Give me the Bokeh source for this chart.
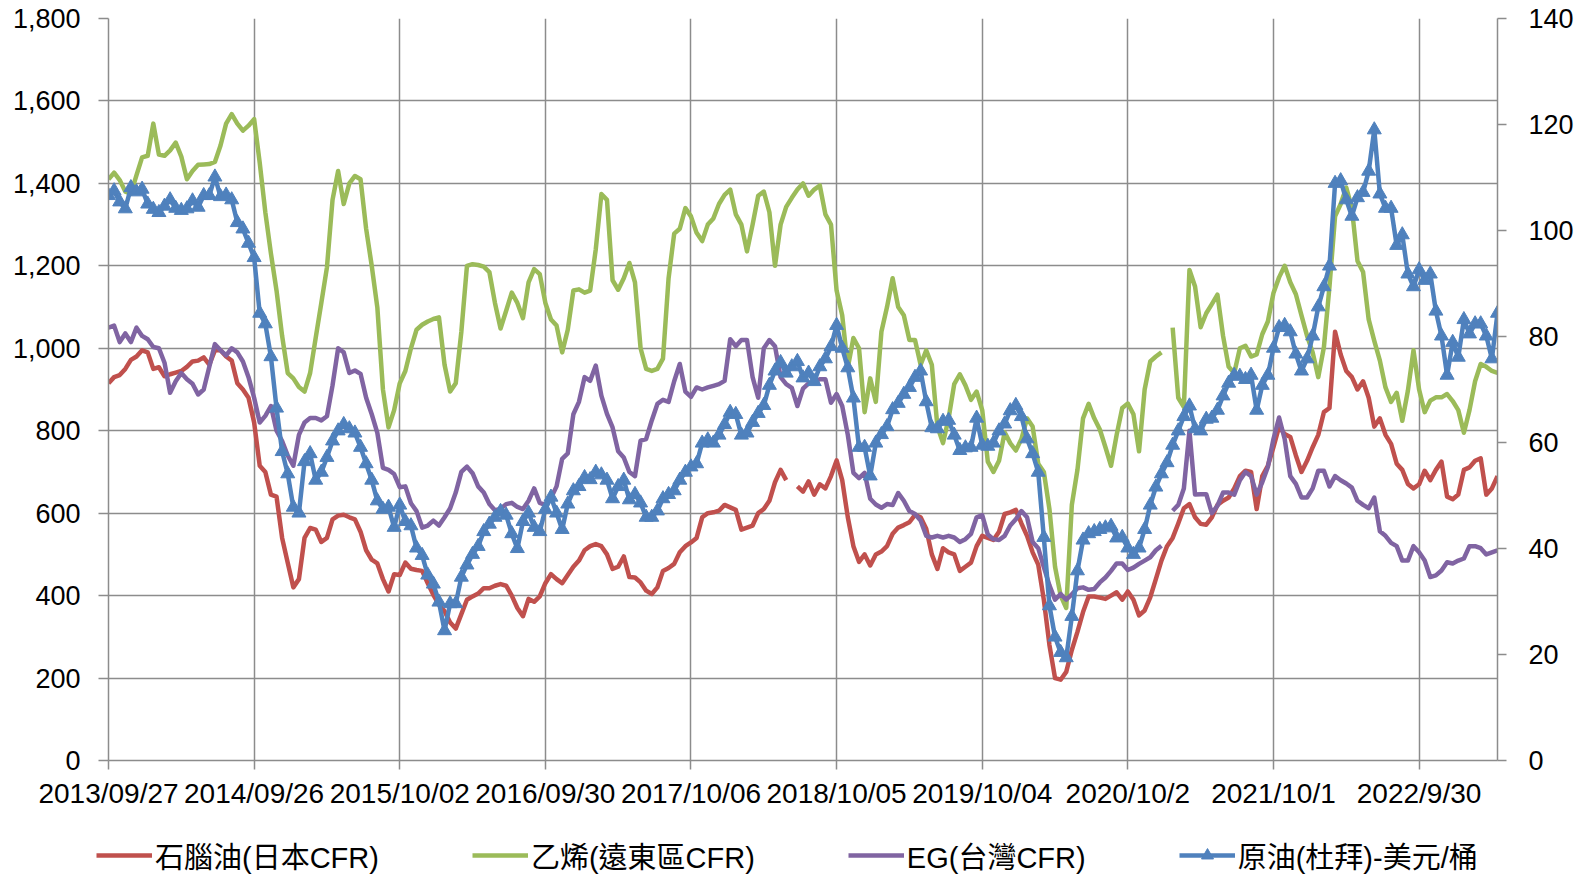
from bokeh.plotting import figure
from bokeh.layouts import column
from bokeh.models import (Range1d, LinearAxis, FixedTicker, NumeralTickFormatter,
                          Legend, LegendItem)
from bokeh.embed import file_html
from bokeh.resources import INLINE
import numpy as np

nan = float("nan")

# weekly category axis (index of week since 2013/09/27); data read every 2 weeks
tick_weeks = [0, 52, 104, 156, 208, 260, 312, 364, 416, 468]
tick_labels = ["2013/09/27", "2014/09/26", "2015/10/02", "2016/09/30", "2017/10/06",
               "2018/10/05", "2019/10/04", "2020/10/2", "2021/10/1", "2022/9/30"]
weeks = list(range(0, 497, 2))

# 石腦油(日本CFR)
naphtha = [
    915, 930, 935, 950, 972, 980, 995, 990, 950, 954, 932, 937, 941, 945, 955, 968, 970, 978, 960, 995, 995, 980, 970, 915, 900, 880,
    820, 715, 700, 645, 640, 540, 480, 420, 440, 540, 564, 560, 530, 540, 585, 594, 596, 590, 585, 555, 510, 487, 478, 440, 410, 452,
    450, 480, 465, 462, 460, 430, 402, 378, 362, 335, 320, 355, 390, 398, 405, 418, 418, 424, 428, 424, 400, 370, 350, 392, 385, 398,
    430, 452, 440, 430, 450, 470, 485, 510, 520, 525, 520, 500, 465, 470, 495, 445, 444, 432, 412, 404, 420, 460, 467, 477, 505, 520,
    529, 540, 590, 600, 602, 606, 620, 614, 608, 560, 565, 570, 600, 610, 630, 675, 705, 680, nan, 665, 652, 677, 645, 670, 660, 690,
    728, 680, 590, 520, 482, 500, 473, 500, 507, 520, 550, 565, 571, 578, 596, 590, 562, 500, 465, 515, 505, 500, 460, 470, 480, 520,
    545, 540, 535, 555, 598, 602, 608, 575, 545, 505, 475, 390, 280, 200, 196, 215, 268, 312, 360, 398, 398, 395, 392, 400, 408, 390,
    410, 390, 352, 364, 396, 440, 485, 520, 540, 575, 612, 622, 590, 574, 572, 590, 620, 630, 638, 660, 690, 703, 700, 610, 690, 715,
    760, 810, 792, 785, 740, 700, 727, 760, 790, 845, 855, 1040, 985, 945, 930, 900, 920, 880, 810, 830, 790, 768, 720, 705, 671, 660,
    670, 703, 680, 705, 725, 640, 634, 645, 705, 711, 727, 733, 645, 660, 690,
]

# 乙烯(遠東區CFR)
ethylene = [
    1410, 1426, 1408, 1380, 1375, 1420, 1463, 1467, 1545, 1470, 1467, 1480, 1499, 1465, 1410, 1430, 1445, 1446, 1447, 1452, 1492, 1545, 1568, 1545, 1528, 1540,
    1556, 1450, 1330, 1230, 1140, 1030, 940, 927, 906, 895, 940, 1026, 1110, 1196, 1360, 1430, 1350, 1400, 1418, 1410, 1290, 1200, 1099, 900, 808, 850,
    915, 945, 1000, 1045, 1057, 1065, 1071, 1075, 960, 895, 915, 1040, 1200, 1204, 1202, 1198, 1185, 1110, 1048, 1091, 1135, 1110, 1073, 1160, 1192, 1180,
    1110, 1070, 1055, 990, 1045, 1140, 1143, 1135, 1140, 1240, 1374, 1360, 1165, 1142, 1170, 1207, 1160, 1000, 950, 945, 950, 975, 1170, 1278, 1290, 1340,
    1320, 1280, 1260, 1300, 1315, 1350, 1372, 1385, 1325, 1300, 1235, 1300, 1370, 1380, 1330, 1200, 1300, 1343, 1365, 1385, 1400, 1370, 1385, 1395, 1325, 1300,
    1140, 1080, 953, 1025, 1000, 845, 927, 870, 1040, 1100, 1170, 1100, 1080, 1020, 1020, 960, 995, 960, 810, 770, 830, 913, 937, 910, 875, 895,
    850, 725, 700, 727, 796, 770, 752, 780, 830, 810, 720, 700, 610, 470, 400, 370, 620, 705, 830, 865, 830, 803, 760, 715, 790, 855,
    866, 840, 750, 900, 968, 980, 990, nan, 1050, 880, 857, 1190, 1150, 1051, 1085, 1107, 1130, 1030, 955, 940, 1000, 1006, 980, 985, 1034, 1065,
    1134, 1172, 1200, 1160, 1131, 1080, 1030, 990, 930, 1002, 1150, 1320, 1350, 1390, 1340, 1212, 1185, 1070, 1018, 970, 905, 870, 892, 824, 897, 995,
    900, 845, 873, 881, 881, 889, 872, 850, 795, 850, 920, 962, 955, 945, 940,
]

# EG(台灣CFR)
eg = [
    1050, 1055, 1015, 1036, 1015, 1050, 1030, 1022, 1003, 1000, 965, 892, 920, 940, 925, 914, 888, 900, 955, 1010, 995, 983, 1000, 990, 968, 930,
    880, 820, 836, 860, 800, 775, 740, 715, 790, 820, 831, 831, 825, 835, 910, 1000, 990, 940, 946, 938, 880, 840, 795, 710, 705, 695,
    663, 665, 624, 605, 565, 570, 582, 570, 590, 612, 650, 700, 713, 697, 665, 650, 622, 607, 610, 622, 625, 615, 610, 630, 660, 625,
    620, 637, 665, 732, 745, 840, 870, 930, 921, 958, 885, 841, 808, 750, 735, 700, 690, 776, 780, 825, 865, 875, 870, 920, 962, 895,
    882, 905, 900, 905, 909, 913, 921, 1022, 1005, 1020, 1020, 930, 880, 1000, 1020, 1005, 930, 913, 904, 860, 902, 915, 919, 925, 925, 868,
    889, 860, 790, 698, 685, 698, 635, 621, 613, 622, 620, 649, 630, 605, 598, 582, 545, 541, 545, 541, 545, 541, 530, 537, 550, 590,
    595, 548, 537, 535, 545, 570, 585, 605, 590, 530, 515, 469, 425, 390, 404, 390, 403, 418, 420, 414, 416, 432, 444, 460, 478, 478,
    462, 468, 477, 485, 493, 510, 521, nan, 606, 620, 660, 800, 645, 646, 646, 600, 618, 650, 650, 645, 680, 700, 690, 645, 675, 712,
    780, 832, 780, 690, 671, 638, 638, 660, 703, 703, 665, 690, 680, 672, 662, 630, 620, 612, 638, 556, 545, 528, 520, 485, 485, 520,
    505, 485, 445, 449, 461, 481, 478, 485, 490, 520, 520, 515, 500, 505, 510,
]

# 原油(杜拜)-美元/桶 (right axis)
crude = [
    106.6, 107.5, 105.4, 104.1, 108.1, 107.3, 107.8, 105.0, 104.0, 103.4, 104.6, 105.8, 104.2, 103.8, 104.1, 105.6, 104.4, 106.6, 106.6, 110.1, 106.4, 106.7, 105.8, 101.5, 100.3, 97.6,
    94.9, 84.4, 82.4, 76.2, 66.5, 58.3, 54.1, 47.8, 46.7, 56.4, 57.9, 52.9, 54.4, 57.2, 60.3, 62.2, 63.4, 62.6, 61.8, 59.1, 56.0, 52.9, 49.0, 47.4, 47.8, 44.0,
    48.2, 45.1, 44.3, 40.1, 38.7, 35.0, 33.3, 29.9, 24.5, 29.6, 29.6, 34.6, 36.9, 38.9, 40.4, 43.2, 44.6, 45.9, 47.0, 46.3, 42.8, 40.0, 45.1, 46.7, 44.0, 43.2,
    47.4, 49.7, 46.7, 43.6, 48.4, 50.9, 51.7, 53.4, 53.0, 54.4, 53.9, 52.9, 49.4, 51.7, 52.9, 49.2, 50.2, 48.6, 45.9, 45.9, 47.1, 49.4, 50.2, 50.9, 52.9, 54.4,
    55.4, 56.0, 59.9, 60.5, 59.9, 61.4, 63.4, 65.7, 65.3, 61.4, 61.8, 63.8, 65.5, 67.0, 70.8, 73.5, 75.1, 73.1, 74.3, 75.3, 72.2, 73.1, 71.5, 74.3, 75.8, 78.1,
    82.1, 77.8, 74.1, 68.4, 59.1, 59.1, 53.7, 59.9, 61.5, 63.0, 66.2, 67.4, 69.1, 70.4, 72.3, 73.5, 67.7, 62.8, 62.6, 64.0, 64.2, 61.4, 58.5, 59.0, 59.1, 64.6,
    59.5, 59.3, 59.9, 62.2, 63.5, 66.0, 67.0, 64.9, 60.7, 57.9, 54.4, 42.1, 29.2, 23.3, 20.4, 19.4, 27.2, 35.8, 41.6, 42.8, 43.2, 43.6, 43.9, 44.2, 42.0, 42.1,
    40.1, 38.9, 40.1, 43.6, 48.2, 51.6, 54.1, 56.2, 59.5, 62.2, 64.9, 66.9, 62.6, 62.2, 64.4, 64.6, 66.1, 68.8, 71.2, 72.7, 72.5, 71.9, 72.7, 66.1, 70.8, 72.7,
    77.8, 81.7, 82.1, 80.9, 76.7, 73.5, 75.8, 80.1, 85.6, 89.4, 93.3, 108.9, 109.4, 105.8, 102.7, 106.2, 107.2, 111.2, 119.0, 106.9, 104.2, 104.2, 97.2, 99.2, 91.8, 89.4,
    92.6, 90.6, 91.8, 84.8, 80.1, 72.7, 78.9, 76.1, 83.2, 80.5, 82.4, 82.4, 80.1, 75.8, 84.4,
]

series_names = ["石腦油(日本CFR)", "乙烯(遠東區CFR)", "EG(台灣CFR)", "原油(杜拜)-美元/桶"]
colors = ["#C0504D", "#9BBB59", "#8064A2", "#4F81BD"]

GRID = "#8c8c8c"
FONT = "Liberation Sans"
LEGEND_FONT = "Liberation Sans, Noto Sans CJK TC"
LW = 4.5
TRI = 14

# ---------------- main chart ----------------
p = figure(width=1589, height=812, output_backend="svg", toolbar_location=None,
           x_range=Range1d(0, 496), y_range=Range1d(0, 1800),
           min_border_left=108, min_border_right=92, min_border_top=18,
           min_border_bottom=52, background_fill_color="white",
           border_fill_color="white")
p.outline_line_color = None
p.extra_y_ranges = {"oil": Range1d(0, 140)}

xa = p.xaxis[0]
xa.ticker = FixedTicker(ticks=tick_weeks)
xa.major_label_overrides = {w: s for w, s in zip(tick_weeks, tick_labels)}
ya = p.yaxis[0]
ya.ticker = FixedTicker(ticks=list(range(0, 1801, 200)))
ya.formatter = NumeralTickFormatter(format="0,0")
ra = LinearAxis(y_range_name="oil", ticker=FixedTicker(ticks=list(range(0, 141, 20))))
p.add_layout(ra, "right")

for ax, tout, stand, fs in ((xa, 9, 8, "28px"), (ya, 10, 18, "27px"), (ra, 9, 22, "27px")):
    ax.axis_line_color = GRID
    ax.axis_line_width = 1.5
    ax.major_tick_line_color = GRID
    ax.major_tick_line_width = 1.5
    ax.major_tick_in = 0
    ax.major_tick_out = tout
    ax.minor_tick_line_color = None
    ax.major_label_standoff = stand
    ax.major_label_text_font = FONT
    ax.major_label_text_font_size = fs
    ax.major_label_text_color = "black"

p.xgrid.ticker = FixedTicker(ticks=tick_weeks)
p.ygrid.ticker = FixedTicker(ticks=list(range(0, 1801, 200)))
for g in (p.xgrid, p.ygrid):
    g.grid_line_color = GRID
    g.grid_line_width = 1.5

x = np.array(weeks, dtype=float)
p.line(x, np.array(naphtha, dtype=float), line_color=colors[0], line_width=LW, line_join="round")
p.line(x, np.array(ethylene, dtype=float), line_color=colors[1], line_width=LW, line_join="round")
p.line(x, np.array(eg, dtype=float), line_color=colors[2], line_width=LW, line_join="round")
p.line(x, np.array(crude, dtype=float), line_color=colors[3], line_width=LW, line_join="round",
       y_range_name="oil")
p.scatter(x, np.array(crude, dtype=float), marker="triangle", size=TRI,
          fill_color=colors[3], line_color=colors[3], y_range_name="oil")

# ---------------- legend strip ----------------
# (its frame is aligned with the chart frame by the column layout; shifted 12px left)
lg = figure(width=1589, height=64, output_backend="svg", toolbar_location=None,
            x_range=Range1d(0, 1), y_range=Range1d(0, 1),
            x_axis_type=None, y_axis_type=None,
            min_border_left=0, min_border_right=0, min_border_top=0, min_border_bottom=0,
            background_fill_color="white", border_fill_color="white",
            margin=(0, 0, 0, -12))
lg.outline_line_color = None
# one off-range point each so the legend swatches are drawn
off = ([-5.0], [-5.0])
d1 = lg.line(*off, line_color=colors[0], line_width=LW)
d2 = lg.line(*off, line_color=colors[1], line_width=LW)
d3 = lg.line(*off, line_color=colors[2], line_width=LW)
d4 = lg.line(*off, line_color=colors[3], line_width=LW)
d4m = lg.scatter(*off, marker="triangle", size=TRI, fill_color=colors[3], line_color=colors[3])

legend = Legend(
    items=[LegendItem(label=series_names[0], renderers=[d1]),
           LegendItem(label=series_names[1], renderers=[d2]),
           LegendItem(label=series_names[2], renderers=[d3]),
           LegendItem(label=series_names[3], renderers=[d4, d4m])],
    orientation="horizontal", location=(0, 0), level="overlay",
    glyph_width=56, glyph_height=30, label_height=30, label_standoff=3, spacing=93,
    padding=1, margin=0, border_line_color=None, background_fill_alpha=0,
    label_text_font=LEGEND_FONT, label_text_font_size="29px", label_text_color="black",
)
lg.add_layout(legend)

open("out.html", "w").write(file_html(column(p, lg, spacing=0), INLINE))
